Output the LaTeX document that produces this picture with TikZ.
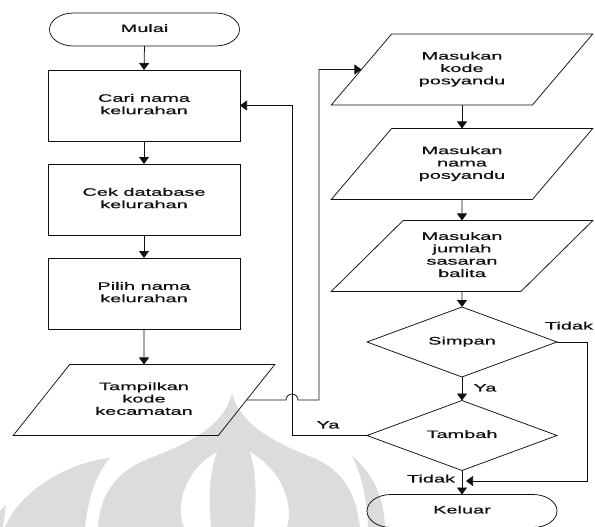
\documentclass[tikz,border=0pt]{standalone}
\usepackage{fontspec}
\usepackage{graphicx}
\setmainfont{Liberation Sans}
\newfontfamily\chartfont[FakeBold=0.5]{Liberation Sans}
\usetikzlibrary{shapes.geometric,arrows.meta}
\definecolor{ink}{HTML}{111111}
\definecolor{wm}{HTML}{DCDCDC}
% wide lettering used for every label
\newcommand\widetext[1]{{\chartfont\fontsize{10.5}{12}\selectfont
  \scalebox{1.9}[1.03]{\begin{tabular}{@{}c@{}}#1\end{tabular}}}}
\begin{document}
\begin{tikzpicture}[x=1pt,y=-1pt,
  every node/.style={align=center, inner sep=0pt, outer sep=0pt, text=ink},
  proc/.style={draw=ink, line width=0.75pt, rectangle, minimum width=192pt, minimum height=71pt},
  io/.style={draw=ink, line width=0.75pt, trapezium, trapezium left angle=45,
    trapezium right angle=135, trapezium stretches=true,
    minimum width=262pt, minimum height=71pt},
  decision/.style={draw=ink, line width=0.75pt, diamond, aspect=2.7,
    minimum width=190pt, minimum height=70pt},
  term/.style={rectangle, minimum width=190pt, minimum height=33pt},
  wire/.style={draw=ink, line width=0.75pt},
  link/.style={wire, -{Triangle[length=7pt,width=10pt]}}
]
\useasboundingbox (0,0) rectangle (595,527);
\fill[white] (0,0) rectangle (595,527);

% faint emblem in the background
\begin{scope}[fill=wm]
  \fill (98,527) .. controls (100,495) and (115,472) .. (150,458)
        .. controls (190,443) and (225,425) .. (232,393)
        .. controls (240,425) and (275,443) .. (314,458)
        .. controls (345,472) and (356,495) .. (360,527) -- cycle;
  \fill[white] (217,452) .. controls (185,470) and (175,505) .. (184,527)
        -- (211,527) .. controls (208,495) and (210,470) .. (217,452) -- cycle;
  \fill[white] (250,452) .. controls (282,470) and (294,505) .. (287,527)
        -- (254,527) .. controls (257,495) and (256,470) .. (250,452) -- cycle;
  \fill (110,458) .. controls (70,462) and (20,490) .. (5,527)
        -- (85,527) .. controls (88,500) and (95,475) .. (110,458) -- cycle;
  \fill (352,456) .. controls (375,475) and (384,500) .. (385,527)
        -- (368,527) .. controls (367,500) and (362,475) .. (352,456) -- cycle;
  \fill (0,511) -- (6,505) -- (3,527) -- (0,527) -- cycle;
\end{scope}

% left column
\node[term]     (mulai)  at (144.5,29.5) {\widetext{Mulai}};
\node[proc]     (cari)   at (144,105.5)  {\widetext{Cari nama\\kelurahan}};
\node[proc]     (cek)    at (144,199.5)  {\widetext{Cek database\\kelurahan}};
\node[proc]     (pilih)  at (144,293.5)  {\widetext{Pilih nama\\kelurahan}};
\node[io]       (tamp)   at (144,400)    {\widetext{Tampilkan\\kode\\kecamatan}};

% right column
\node[io]       (kode)   at (462,69.5)   {\widetext{Masukan\\kode\\posyandu}};
\node[io]       (nama)   at (462,164)    {\widetext{Masukan\\nama\\posyandu}};
\node[io]       (jumlah) at (462,256)    {\widetext{Masukan\\jumlah\\sasaran\\balita}};
\node[decision] (simpan) at (462,342)    {\widetext{Simpan}};
\node[decision] (tambah) at (462,435.5)  {\widetext{Tambah}};
\node[term]     (keluar) at (462,511)    {\widetext{Keluar}};

% terminator outlines: flat top and bottom with half-ellipse ends
\foreach \t in {mulai,keluar}{
  \draw[wire] ([xshift=24pt]\t.north west) -- ([xshift=-24pt]\t.north east)
     arc[start angle=90,end angle=-90,x radius=24pt,y radius=16.5pt]
     -- ([xshift=24pt]\t.south west)
     arc[start angle=270,end angle=90,x radius=24pt,y radius=16.5pt] -- cycle;
}

% branch labels
\node (ya1)    at (485,389)   {\widetext{Ya}};
\node (ya2)    at (328,426)   {\widetext{Ya}};
\node (tidak1) at (569,327)   {\widetext{Tidak}};
\node (tidak2) at (431,480)   {\widetext{Tidak}};

% helper points for the routed connectors
\coordinate (loopX)  at (292,0);
\coordinate (hopL)   at (286,400);
\coordinate (riseX)  at (319,0);
\coordinate (sideX)  at (587,0);
\coordinate (merge)  at (466,481);

% straight flow
\draw[link] (mulai.south)  -- (cari.north);
\draw[link] (cari.south)   -- (cek.north);
\draw[link] (cek.south)    -- (pilih.north);
\draw[link] (pilih.south)  -- (tamp.north);
\draw[link] (kode.south)   -- (nama.north);
\draw[link] (nama.south)   -- (jumlah.north);
\draw[link] (jumlah.south) -- (simpan.north);
\draw[link] (simpan.south) -- (tambah.north);
\draw[link] (tambah.south) -- (keluar.north);

% Tampilkan -> Masukan kode, hopping over the loop line
\draw[link] (tamp.east) -- (hopL) arc[start angle=180,end angle=0,radius=6pt]
   -- (riseX |- tamp.east) -- (riseX |- kode.west) -- (kode.west);

% Tambah = Ya: back to Cari nama kelurahan
\draw[link] (tambah.west) -- (loopX |- tambah.west) -- (loopX |- cari.east) -- (cari.east);

% Simpan = Tidak: straight to Keluar
\draw[link] (simpan.east) -- (sideX |- simpan.east) -- (sideX |- merge) -- (merge);
\end{tikzpicture}
\end{document}
